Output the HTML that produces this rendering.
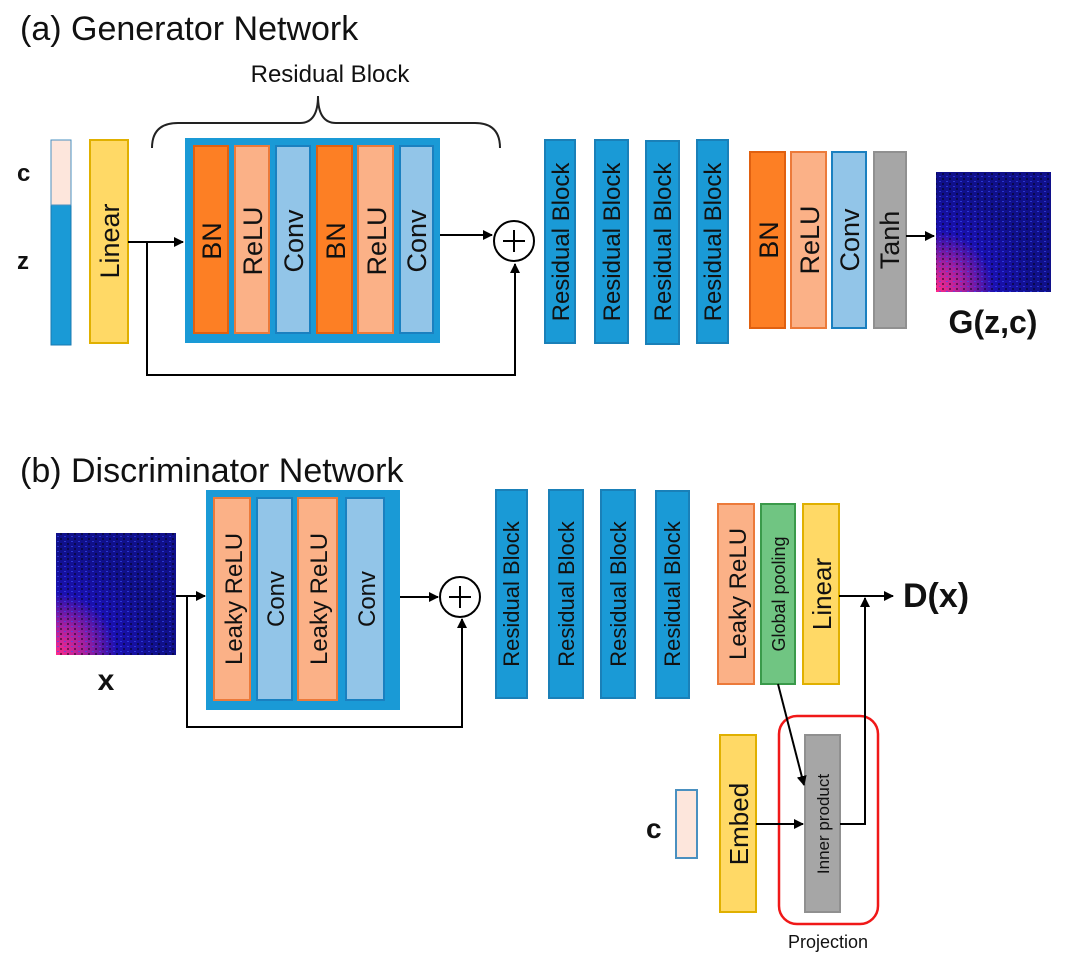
<!DOCTYPE html>
<html><head><meta charset="utf-8"><style>
body{margin:0;background:#fff}
svg{display:block}
text{font-family:"Liberation Sans",sans-serif;fill:#111}
.v{font-size:27px}
.d{font-size:24px}
</style></head><body>
<svg width="1080" height="960" viewBox="0 0 1080 960" xmlns="http://www.w3.org/2000/svg">
<defs>
<marker id="a" markerWidth="10" markerHeight="10" refX="9" refY="5" orient="auto" markerUnits="userSpaceOnUse"><path d="M0,0 L10,5 L0,10 z" fill="#000"/></marker>
<radialGradient id="sp" cx="0" cy="1" r="0.85">
<stop offset="0" stop-color="#ff2a8a"/><stop offset="0.3" stop-color="#a01fa0"/><stop offset="0.6" stop-color="#1a10b0"/><stop offset="1" stop-color="#10108a"/></radialGradient>
<pattern id="nz" width="7" height="5" patternUnits="userSpaceOnUse"><rect x="1" y="1" width="2" height="1" fill="#3a50ff" opacity=".6"/><rect x="4" y="3" width="2" height="2" fill="#000" opacity=".45"/></pattern>
</defs>
<g font-size="34">
<text x="20" y="40">(a) Generator Network</text>
<text x="20" y="482">(b) Discriminator Network</text>
</g>
<text x="330" y="82" font-size="24" text-anchor="middle">Residual Block</text>
<path d="M152,148 Q152,123 178,123 L300,123 Q318,123 318,96 Q318,123 336,123 L475,123 Q500,123 500,148" fill="none" stroke="#222" stroke-width="2"/>
<rect x="51" y="140" width="20" height="205" fill="#1a9ad6" stroke="#1a7ab0"/>
<rect x="51" y="140" width="20" height="65" fill="#fde6dc" stroke="#4a90c0"/>
<text x="17" y="181" font-size="24" font-weight="bold">c</text>
<text x="17" y="269" font-size="24" font-weight="bold">z</text>
<g stroke-width="2">
<rect x="90" y="140" width="38" height="203" fill="#ffd966" stroke="#e0b000"/>
<rect x="185" y="138" width="255" height="205" fill="#1a9ad6"/>
<rect x="194" y="146" width="34" height="187" fill="#fd7f24" stroke="#e06010"/>
<rect x="235" y="146" width="34" height="187" fill="#fbb187" stroke="#ec7a3a"/>
<rect x="276" y="146" width="34" height="187" fill="#92c5e8" stroke="#1a80c0"/>
<rect x="317" y="146" width="35" height="187" fill="#fd7f24" stroke="#e06010"/>
<rect x="358" y="146" width="35" height="187" fill="#fbb187" stroke="#ec7a3a"/>
<rect x="400" y="146" width="33" height="187" fill="#92c5e8" stroke="#1a80c0"/>
<rect x="545" y="140" width="30" height="203" fill="#1a9ad6" stroke="#1a80b8"/>
<rect x="595" y="140" width="33" height="203" fill="#1a9ad6" stroke="#1a80b8"/>
<rect x="646" y="141" width="33" height="203" fill="#1a9ad6" stroke="#1a80b8"/>
<rect x="697" y="140" width="31" height="203" fill="#1a9ad6" stroke="#1a80b8"/>
<rect x="750" y="152" width="35" height="176" fill="#fd7f24" stroke="#e06010"/>
<rect x="791" y="152" width="35" height="176" fill="#fbb187" stroke="#ec7a3a"/>
<rect x="832" y="152" width="34" height="176" fill="#92c5e8" stroke="#1a80c0"/>
<rect x="874" y="152" width="32" height="176" fill="#a6a6a6" stroke="#909090"/>
</g>
<g class="v">
<text transform="translate(221,241) rotate(-90)" text-anchor="middle">BN</text>
<text transform="translate(262,241) rotate(-90)" text-anchor="middle">ReLU</text>
<text transform="translate(303,241) rotate(-90)" text-anchor="middle">Conv</text>
<text transform="translate(345,241) rotate(-90)" text-anchor="middle">BN</text>
<text transform="translate(386,241) rotate(-90)" text-anchor="middle">ReLU</text>
<text transform="translate(426,241) rotate(-90)" text-anchor="middle">Conv</text>
<text transform="translate(119,241) rotate(-90)" text-anchor="middle">Linear</text>
<text transform="translate(778,240) rotate(-90)" text-anchor="middle">BN</text>
<text transform="translate(819,240) rotate(-90)" text-anchor="middle">ReLU</text>
<text transform="translate(859,240) rotate(-90)" text-anchor="middle">Conv</text>
<text transform="translate(899,240) rotate(-90)" text-anchor="middle">Tanh</text>
</g>
<g font-size="24">
<text transform="translate(569,242) rotate(-90)" text-anchor="middle">Residual Block</text>
<text transform="translate(620,242) rotate(-90)" text-anchor="middle">Residual Block</text>
<text transform="translate(671,242) rotate(-90)" text-anchor="middle">Residual Block</text>
<text transform="translate(721,242) rotate(-90)" text-anchor="middle">Residual Block</text>
</g>
<g stroke="#000" stroke-width="2" fill="none">
<line x1="128" y1="242" x2="183" y2="242" marker-end="url(#a)"/>
<polyline points="147,242 147,375 515,375 515,264" marker-end="url(#a)"/>
<line x1="440" y1="235" x2="492" y2="235" marker-end="url(#a)"/>
<circle cx="514" cy="241" r="20" fill="#fff"/>
<line x1="503" y1="241" x2="525" y2="241"/><line x1="514" y1="230" x2="514" y2="252"/>
<line x1="906" y1="236" x2="934" y2="236" marker-end="url(#a)"/>
</g>
<rect x="936" y="172" width="115" height="120" fill="url(#sp)"/><rect x="936" y="172" width="115" height="120" fill="url(#nz)"/>
<text x="993" y="333" font-size="32" font-weight="bold" text-anchor="middle">G(z,c)</text>

<rect x="56" y="533" width="120" height="122" fill="url(#sp)"/><rect x="56" y="533" width="120" height="122" fill="url(#nz)"/>
<text x="106" y="690" font-size="30" font-weight="bold" text-anchor="middle">x</text>
<g stroke-width="2">
<rect x="206" y="490" width="194" height="220" fill="#1a9ad6"/>
<rect x="214" y="498" width="36" height="202" fill="#fbb187" stroke="#ec7a3a"/>
<rect x="257" y="498" width="35" height="202" fill="#92c5e8" stroke="#1a80c0"/>
<rect x="298" y="498" width="39" height="202" fill="#fbb187" stroke="#ec7a3a"/>
<rect x="346" y="498" width="38" height="202" fill="#92c5e8" stroke="#1a80c0"/>
<rect x="496" y="490" width="31" height="208" fill="#1a9ad6" stroke="#1a80b8"/>
<rect x="549" y="490" width="34" height="208" fill="#1a9ad6" stroke="#1a80b8"/>
<rect x="601" y="490" width="34" height="208" fill="#1a9ad6" stroke="#1a80b8"/>
<rect x="656" y="491" width="33" height="207" fill="#1a9ad6" stroke="#1a80b8"/>
<rect x="718" y="504" width="36" height="180" fill="#fbb187" stroke="#ec7a3a"/>
<rect x="761" y="504" width="34" height="180" fill="#70c582" stroke="#3a9a4a"/>
<rect x="803" y="504" width="36" height="180" fill="#ffd966" stroke="#e0b000"/>
<rect x="720" y="735" width="36" height="177" fill="#ffd966" stroke="#e0b000"/>
<rect x="805" y="735" width="35" height="177" fill="#a6a6a6" stroke="#909090"/>
<rect x="676" y="790" width="21" height="68" fill="#fde6dc" stroke="#4a90c0"/>
<rect x="779" y="716" width="99" height="208" rx="18" fill="none" stroke="#f01818" stroke-width="2.5"/>
</g>
<g class="d">
<text transform="translate(242,599) rotate(-90)" text-anchor="middle">Leaky ReLU</text>
<text transform="translate(284,599) rotate(-90)" text-anchor="middle">Conv</text>
<text transform="translate(327,599) rotate(-90)" text-anchor="middle">Leaky ReLU</text>
<text transform="translate(375,599) rotate(-90)" text-anchor="middle">Conv</text>
<text transform="translate(746,594) rotate(-90)" text-anchor="middle">Leaky ReLU</text>
<text transform="translate(831,594) rotate(-90)" text-anchor="middle" font-size="26">Linear</text>
<text transform="translate(748,824) rotate(-90)" text-anchor="middle" font-size="26">Embed</text>
</g>
<g font-size="22">
<text transform="translate(519,594) rotate(-90)" text-anchor="middle">Residual Block</text>
<text transform="translate(574,594) rotate(-90)" text-anchor="middle">Residual Block</text>
<text transform="translate(626,594) rotate(-90)" text-anchor="middle">Residual Block</text>
<text transform="translate(680,594) rotate(-90)" text-anchor="middle">Residual Block</text>
</g>
<text transform="translate(785,594) rotate(-90)" text-anchor="middle" font-size="18">Global pooling</text>
<text transform="translate(829,824) rotate(-90)" text-anchor="middle" font-size="17">Inner product</text>
<text x="828" y="948" font-size="18" text-anchor="middle">Projection</text>
<text x="646" y="838" font-size="28" font-weight="bold">c</text>
<text x="903" y="607" font-size="34" font-weight="bold">D(x)</text>
<g stroke="#000" stroke-width="2" fill="none">
<line x1="176" y1="596" x2="205" y2="596" marker-end="url(#a)"/>
<polyline points="187,596 187,727 462,727 462,619" marker-end="url(#a)"/>
<line x1="400" y1="597" x2="438" y2="597" marker-end="url(#a)"/>
<circle cx="460" cy="597" r="20" fill="#fff"/>
<line x1="449" y1="597" x2="471" y2="597"/><line x1="460" y1="586" x2="460" y2="608"/>
<line x1="839" y1="596" x2="893" y2="596" marker-end="url(#a)"/>
<polyline points="840,824 865,824 865,598" marker-end="url(#a)"/>
<line x1="756" y1="824" x2="803" y2="824" marker-end="url(#a)"/>
<line x1="778" y1="684" x2="804" y2="785" marker-end="url(#a)"/>
</g>
</svg>
</body></html>
